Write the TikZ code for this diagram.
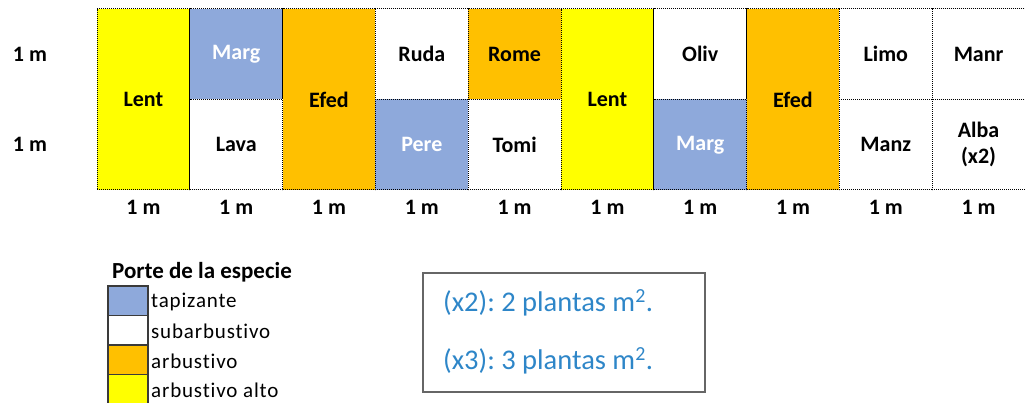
\documentclass[tikz,border=0pt]{standalone}
\usepackage{fontspec}
\setmainfont{Carlito}
\usepackage{xcolor}
\usepackage{tikz}
\usetikzlibrary{positioning}
\definecolor{portblue}{HTML}{8EA9DB}
\definecolor{portorange}{HTML}{FFC000}
\definecolor{portyellow}{HTML}{FFFF00}
\definecolor{noteblue}{HTML}{2E86C8}
\definecolor{swatchedge}{HTML}{3A3A3A}
\frenchspacing

\begin{document}
\begin{tikzpicture}[
  x=1pt, y=-1pt,
  cell/.style={draw=black, dash pattern=on 1pt off 1pt, line width=1pt,
               inner sep=0pt, minimum width=92.8pt, minimum height=90.5pt,
               align=center, font=\fontsize{22}{26}\selectfont\bfseries},
  tall/.style={cell, minimum height=181pt},
  meter/.style={font=\fontsize{22}{26}\selectfont\bfseries, inner sep=0pt},
  swatch/.style={draw=swatchedge, line width=1.2pt, inner sep=0pt,
                 minimum width=40pt, minimum height=29.5pt},
  legtext/.style={anchor=west, inner sep=0pt,
                  font=\fontsize{21}{24}\selectfont\addfontfeature{LetterSpace=4,Ligatures=NoCommon}},
  notetext/.style={anchor=west, inner sep=0pt, text=noteblue,
                   font=\fontsize{28.5}{32}\selectfont}
]
\useasboundingbox (0,0) rectangle (1025,403);
% planting grid, 10 m x 2 m
\node[tall, fill=portyellow] (lent1) at (143.4,99.5) {Lent};
\node[cell, fill=portblue, text=white] (marg1) at (236.2,54.25) {Marg};
\node[cell, fill=white] (lava) at (236.2,144.75) {Lava};
\node[tall, fill=portorange] (efed1) at (329,99.5) {Efed};
\node[cell, fill=white] (ruda) at (421.8,54.25) {Ruda};
\node[cell, fill=portblue, text=white] (pere) at (421.8,144.75) {Pere};
\node[cell, fill=portorange] (rome) at (514.6,54.25) {Rome};
\node[cell, fill=white] (tomi) at (514.6,144.75) {Tomi};
\node[tall, fill=portyellow] (lent2) at (607.4,99.5) {Lent};
\node[cell, fill=white] (oliv) at (700.2,54.25) {Oliv};
\node[cell, fill=portblue, text=white] (marg2) at (700.2,144.75) {Marg};
\node[tall, fill=portorange] (efed2) at (793,99.5) {Efed};
\node[cell, fill=white] (limo) at (885.8,54.25) {Limo};
\node[cell, fill=white] (manz) at (885.8,144.75) {Manz};
\node[cell, fill=white] (manr) at (978.6,54.25) {Manr};
\node[cell, fill=white] (alba) at (978.6,144.75) {Alba\\(x2)};
% row and column sizes
\node[meter] (rowtop) at (30,54.25) {1 m};
\node[meter] (rowbot) at (30,144.75) {1 m};
\node[meter, below=10pt of lent1] (col1) {1 m};
\node[meter, below=10pt of lava] (col2) {1 m};
\node[meter, below=10pt of efed1] (col3) {1 m};
\node[meter, below=10pt of pere] (col4) {1 m};
\node[meter, below=10pt of tomi] (col5) {1 m};
\node[meter, below=10pt of lent2] (col6) {1 m};
\node[meter, below=10pt of marg2] (col7) {1 m};
\node[meter, below=10pt of efed2] (col8) {1 m};
\node[meter, below=10pt of manz] (col9) {1 m};
\node[meter, below=10pt of alba] (col10) {1 m};
% legend
\node[anchor=west, inner sep=0pt, font=\fontsize{23}{26}\selectfont\bfseries] (legtitle) at (112,272) {Porte de la especie};
\node[swatch, fill=portblue] (swtap) at (128,300.75) {};
\node[swatch, fill=white] (swsub) at (128,330.25) {};
\node[swatch, fill=portorange] (swarb) at (128,359.75) {};
\node[swatch, fill=portyellow] (swalt) at (128,389.25) {};
\node[legtext] (lgtap) at (151,302) {tapizante};
\node[legtext] (lgsub) at (151,331.5) {subarbustivo};
\node[legtext] (lgarb) at (151,361) {arbustivo};
\node[legtext] (lgalt) at (151,390.5) {arbustivo alto};
% density note
\node[draw=gray!80!black, line width=1.3pt, minimum width=282pt, minimum height=119pt] (note) at (564,332.5) {};
\node[notetext] (notetwo) at (443,303) {(x2): 2 plantas m\textsuperscript{2}.};
\node[notetext] (notethree) at (443,361) {(x3): 3 plantas m\textsuperscript{2}.};
\end{tikzpicture}
\end{document}
